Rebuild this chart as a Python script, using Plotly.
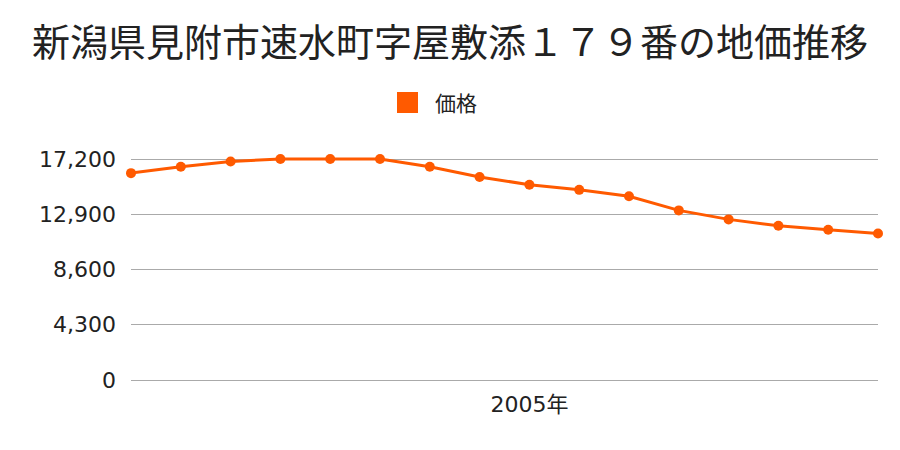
import plotly.graph_objects as go

years = list(range(1997, 2013))
prices = [16100, 16600, 17000, 17200, 17200, 17200, 16600, 15800, 15200,
          14800, 14300, 13200, 12500, 12000, 11700, 11400]
y_ticks = [0, 4300, 8600, 12900, 17200]
y_tick_labels = ["0", "4,300", "8,600", "12,900", "17,200"]
x_ticks = [2005]
x_tick_labels = ["2005年"]
title = "新潟県見附市速水町字屋敷添１７９番の地価推移"
series_name = "価格"
color = "#ff5a00"
cjk = "Noto Sans CJK JP"
latin = "DejaVu Sans, Noto Sans CJK JP"

# layout geometry (pixels)
W, H = 900, 450
L, R, T, B = 131, 22, 156, 70
pw, ph = W - L - R, H - T - B
ytop = 17200 * ph / 221.0


def px_x(p):
    return (p - L) / pw


def px_y(p):
    return (H - B - p) / ph


fig = go.Figure()
fig.add_trace(go.Scatter(
    x=years, y=prices, name=series_name, mode="lines+markers",
    line=dict(color=color, width=3),
    marker=dict(color=color, size=10),
    cliponaxis=False, showlegend=False,
))

fig.update_layout(
    width=W, height=H,
    paper_bgcolor="white", plot_bgcolor="white",
    font=dict(family=cjk, color="#222222", size=20),
    title=dict(text=title, x=0.5, xanchor="center", y=0.905, yanchor="middle",
               font=dict(size=38, color="#222222", family=cjk)),
    margin=dict(l=L, r=R, t=T, b=B),
    showlegend=False,
    shapes=[dict(type="rect", xref="paper", yref="paper",
                 x0=px_x(397), x1=px_x(418), y0=px_y(113), y1=px_y(92),
                 fillcolor=color, line=dict(width=0))],
    annotations=[dict(text=series_name, xref="paper", yref="paper",
                      x=px_x(433), y=px_y(102.5), xanchor="left", yanchor="middle",
                      showarrow=False, font=dict(size=21, family=cjk, color="#222222"))],
    xaxis=dict(range=[1997, 2012], tickmode="array", tickvals=x_ticks,
               ticktext=x_tick_labels, showgrid=False, zeroline=False,
               showline=False, ticks="", ticklabelstandoff=9,
               tickfont=dict(size=22, family=latin)),
    yaxis=dict(range=[0, ytop], tickmode="array", tickvals=y_ticks,
               ticktext=y_tick_labels, showgrid=True, gridcolor="#aaaaaa",
               gridwidth=1, zeroline=True, zerolinecolor="#aaaaaa",
               zerolinewidth=1, showline=False, ticks="",
               ticklabelstandoff=14, tickfont=dict(size=22, family=latin)),
)

fig.write_html("out.html")
